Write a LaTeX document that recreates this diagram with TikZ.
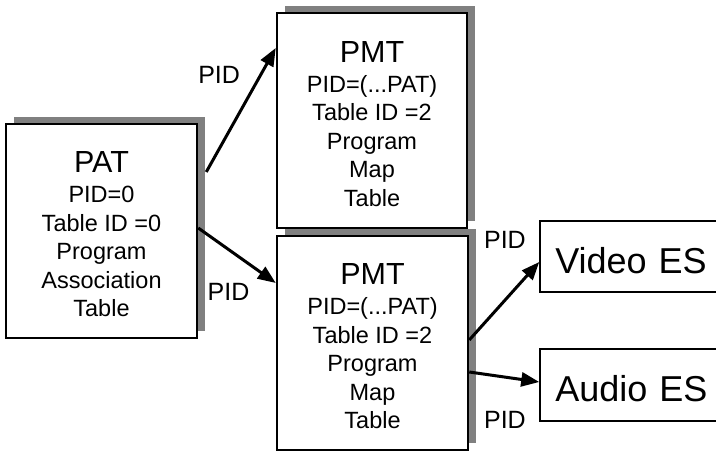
\documentclass[tikz,border=0pt]{standalone}
\usepackage{fontspec}
\setmainfont{Liberation Sans}
\usetikzlibrary{arrows.meta,positioning,shadows}
\tikzset{
  tbl/.style={draw, line width=2.5pt, fill=white, align=center, minimum width=191pt, minimum height=214pt, inner sep=0pt, font=\fontsize{23.5}{28.5}\selectfont, drop shadow={shadow xshift=8pt, shadow yshift=7pt, fill=black!50, opacity=1}},
  es/.style={draw, line width=2pt, fill=white, align=left, text width=170pt, inner xsep=15pt, minimum height=71pt, text height=34pt, text depth=0pt, font=\fontsize{36}{40}\selectfont},
  arrow/.style={-{Triangle[length=18pt,width=14pt]}, line width=3pt},
  pid/.style={inner sep=0pt, font=\fontsize{25}{28}\selectfont}
}
\newcommand{\boxtitle}[1]{{\fontsize{30.5}{36}\selectfont\rule{0pt}{28pt}#1}\\[1.5pt]}

\begin{document}
\begin{tikzpicture}[x=1pt, y=1pt]
  \useasboundingbox (0,0) rectangle (716,452);
  \clip (0,0) rectangle (716,452);
  \node[tbl] (pat) at (101.5,221) {\boxtitle{PAT}PID=0\\Table ID =0\\Program\\Association\\Table};
  \node[tbl, minimum width=190pt, minimum height=215pt] (pmtA) at (372,331.5) {\boxtitle{PMT}PID=(...PAT)\\Table ID =2\\Program\\Map\\Table};
  \node[tbl] (pmtB) at (372.5,109) {\boxtitle{PMT}PID=(...PAT)\\Table ID =2\\Program\\Map\\Table};
  \node[es, right=70pt of pmtB, yshift=86.5pt] (video) {Video ES};
  \node[es, below=55pt of video, minimum height=72pt] (audio) {Audio ES};

  \draw[arrow] ([shift={(8pt,59pt)}]pat.east) -- node[pid, pos=.78, left=19pt] (pid1) {PID} ([yshift=72.5pt]pmtA.west);
  \draw[arrow] ([yshift=3pt]pat.east) -- node[pid, pos=.39, below=32pt] (pid2) {PID} ([yshift=60pt]pmtB.west);
  \draw[arrow] ([yshift=3pt]pmtB.east) -- node[pid, pos=1, above left=12pt and 12pt] (pid3) {PID} ([yshift=-5.5pt]video.west);
  \draw[arrow] ([yshift=-29pt]pmtB.east) -- node[pid, pos=1, below left=28pt and 12pt] (pid4) {PID} ([yshift=3pt]audio.west);
\end{tikzpicture}
\end{document}
